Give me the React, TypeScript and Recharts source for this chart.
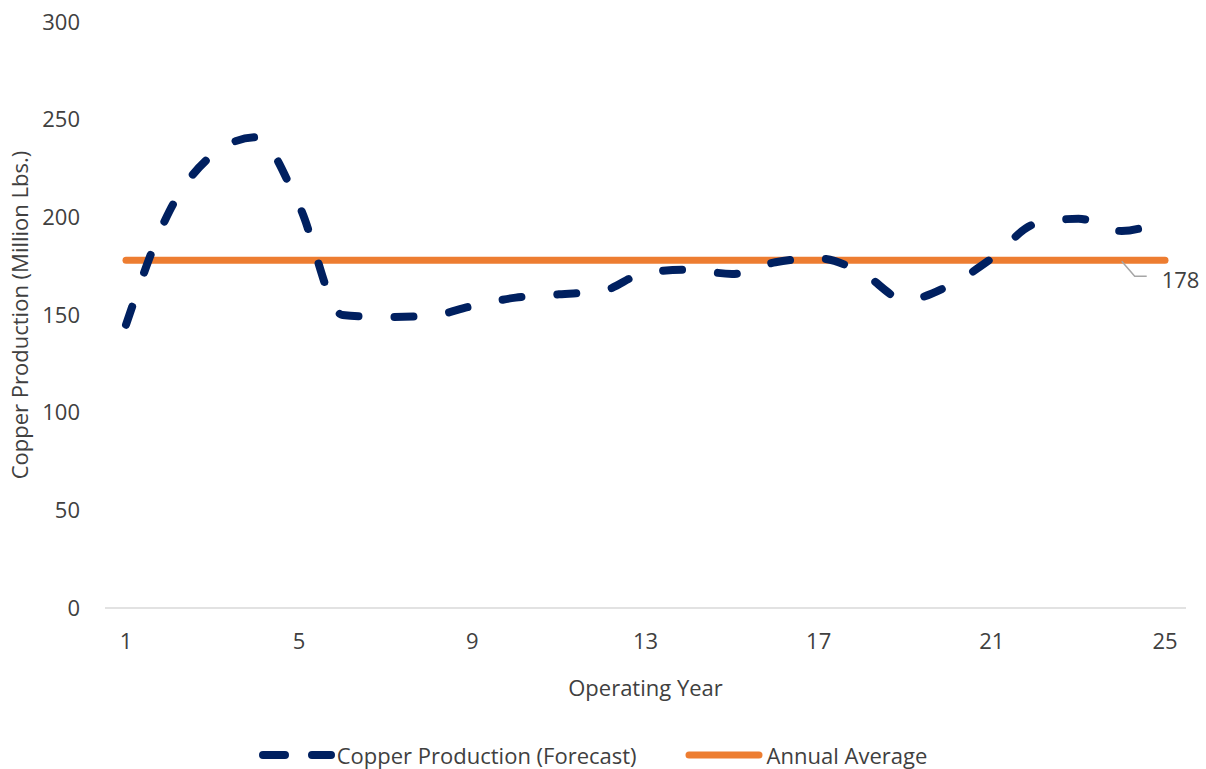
import React from 'react'
import { LineChart, Line, XAxis, YAxis, Legend, LabelList } from 'recharts'

const years = [1, 2, 3, 4, 5, 6, 7, 8, 9, 10, 11, 12, 13, 14, 15, 16, 17, 18, 19, 20, 21, 22, 23, 24, 25]
const forecast = [145, 203, 232, 241, 206, 150, 149, 149.5, 154.6, 158.9, 160.6, 162.3, 171.7, 173.2, 171, 177, 179, 171.7, 157.7, 164.9, 179, 196.6, 199.3, 193, 198.7]
const annualAverage = 178
const xTicks = [1, 5, 9, 13, 17, 21, 25]
const yTicks = [0, 50, 100, 150, 200, 250, 300]

const data = years.map((year, i) => ({ year, forecast: forecast[i], average: annualAverage }))

const FONT = '"Open Sans", "Noto Sans", sans-serif'
const FS = 22
const TEXT = '#404040'
const NAVY = '#002060'
const ORANGE = '#ED7D31'

function AverageLabel(props: any) {
  const { x, y, index, value } = props
  if (index !== years.length - 2) return null
  return (
    <g>
      <polyline points={`${x},${y + 1} ${x + 13},${y + 16} ${x + 25},${y + 16}`} fill="none" stroke="#A6A6A6" strokeWidth={1.5} />
      <text x={x + 40} y={y + 28} fill={TEXT} fontSize={FS} fontFamily={FONT}>
        {value}
      </text>
    </g>
  )
}

function ChartLegend() {
  return (
    <div style={{ display: 'flex', justifyContent: 'center', alignItems: 'center', paddingTop: 32, fontFamily: FONT, fontSize: FS, color: TEXT }}>
      <svg width={76} height={10} style={{ marginRight: 2 }}>
        <line x1={4} y1={5} x2={72} y2={5} stroke={NAVY} strokeWidth={8} strokeLinecap="round" strokeDasharray="22 27" />
      </svg>
      <span style={{ marginRight: 48 }}>Copper Production (Forecast)</span>
      <svg width={78} height={10} style={{ marginRight: 4 }}>
        <line x1={4} y1={5} x2={74} y2={5} stroke={ORANGE} strokeWidth={7} strokeLinecap="round" />
      </svg>
      <span>Annual Average</span>
    </div>
  )
}

export default function App() {
  return (
    <div style={{ position: 'absolute', left: 0, top: 0, background: '#fff' }}>
      <LineChart width={1206} height={769} data={data} margin={{ top: 22, right: 20, bottom: 0, left: 0 }}>
        <XAxis
          dataKey="year"
          ticks={xTicks}
          interval={0}
          padding={{ left: 21, right: 21 }}
          axisLine={{ stroke: '#D9D9D9', strokeWidth: 1.5 }}
          tickLine={false}
          tickSize={0}
          tickMargin={25}
          height={100}
          tick={{ fill: TEXT, fontSize: FS, fontFamily: FONT }}
          label={{ value: 'Operating Year', position: 'insideBottom', offset: 12, fill: TEXT, fontSize: FS, fontFamily: FONT }}
        />
        <YAxis
          domain={[0, 300]}
          ticks={yTicks}
          width={105}
          axisLine={false}
          tickLine={false}
          tickSize={0}
          tickMargin={25}
          tick={{ fill: TEXT, fontSize: FS, fontFamily: FONT }}
          label={{ value: 'Copper Production (Million Lbs.)', angle: -90, position: 'insideLeft', offset: 20, fill: TEXT, fontSize: FS, fontFamily: FONT, style: { textAnchor: 'middle' } }}
        />
        <Legend verticalAlign="bottom" height={61} content={() => <ChartLegend />} />
        <Line
          dataKey="average"
          stroke={ORANGE}
          strokeWidth={7}
          strokeLinecap="round"
          dot={false}
          activeDot={false}
          isAnimationActive={false}
        >
          <LabelList dataKey="average" content={<AverageLabel />} />
        </Line>
        <Line
          dataKey="forecast"
          type="monotone"
          stroke={NAVY}
          strokeWidth={8}
          strokeDasharray="19 36"
          strokeLinecap="round"
          dot={false}
          activeDot={false}
          isAnimationActive={false}
        />
      </LineChart>
    </div>
  )
}
